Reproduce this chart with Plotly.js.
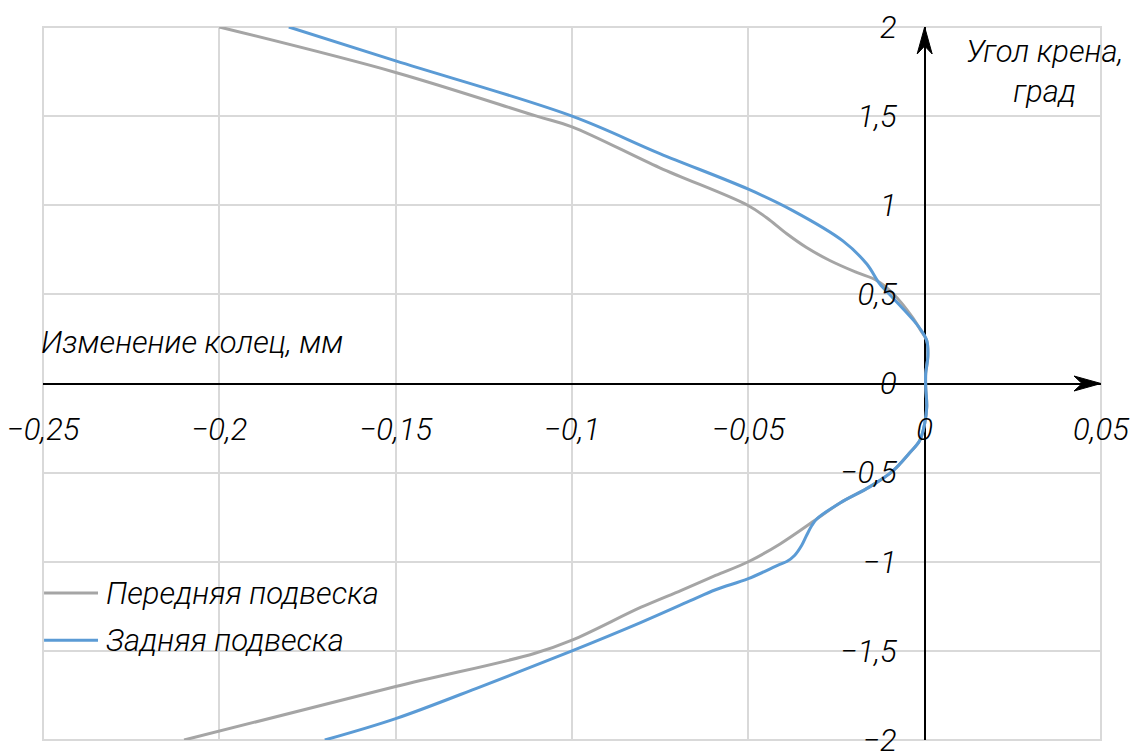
<!DOCTYPE html>
<html>
<head>
<meta charset="utf-8">
<script src="https://cdn.plot.ly/plotly-3.0.1.min.js"></script>
<style>
  html, body { margin: 0; padding: 0; background: #fff; }
  #chart { width: 1142px; height: 753px; }
</style>
</head>
<body>
<div id="chart"></div>
<script>
// ---- data (track change, mm vs roll angle, deg) ----
const frontX = [-0.2000, -0.1500, -0.1100, -0.1000, -0.0751, -0.0502, -0.0448, -0.0391, -0.0335, -0.0269, -0.0193, -0.0136,
                -0.0090, -0.0034, -0.0012, 0.0006, 0.0009, 0.0003, 0.0003, 0.0006, 0.0000, -0.0014, -0.0043, -0.0090,
                -0.0156, -0.0240, -0.0306, -0.0410, -0.0500, -0.0593, -0.0690, -0.0804, -0.1000, -0.1107, -0.1500, -0.2100];
const frontY = [2.00, 1.745, 1.50, 1.44, 1.21, 1.00, 0.93, 0.84, 0.763, 0.69, 0.623, 0.578,
                0.505, 0.37, 0.30, 0.24, 0.15, 0.056, -0.02, -0.13, -0.225, -0.32, -0.39, -0.49,
                -0.58, -0.67, -0.76, -0.90, -1.00, -1.077, -1.16, -1.255, -1.44, -1.515, -1.70, -2.00];

const rearX = [-0.1803, -0.1500, -0.1000, -0.0751, -0.0500, -0.0374, -0.0232, -0.0164, -0.0128, -0.0090, -0.0034,
               -0.0014, 0.0006, 0.0009, 0.0003, 0.0003, 0.0006, 0.0000, -0.0014, -0.0043, -0.0090, -0.0156, -0.0240,
               -0.0306, -0.0320, -0.0335, -0.0349, -0.0369, -0.0391, -0.0411, -0.0500, -0.0593, -0.0666, -0.0804,
               -0.1000, -0.1258, -0.1500, -0.1701];
const rearY = [2.00, 1.81, 1.50, 1.29, 1.09, 0.97, 0.80, 0.67, 0.56, 0.48, 0.36,
               0.31, 0.24, 0.15, 0.056, -0.02, -0.13, -0.225, -0.32, -0.39, -0.49, -0.58, -0.67,
               -0.76, -0.797, -0.853, -0.909, -0.965, -0.999, -1.015, -1.095, -1.157, -1.22, -1.34,
               -1.50, -1.70, -1.88, -2.00];

const seriesNames = ['Передняя подвеска', 'Задняя подвеска'];
const seriesColors = ['#a5a5a5', '#5b9bd5'];

const xTickVals = [-0.25, -0.2, -0.15, -0.1, -0.05, 0, 0.05];
const xTickText = ['−0,25', '−0,2', '−0,15', '−0,1', '−0,05', '0', '0,05'];
const yTickVals = [-2, -1.5, -1, -0.5, 0, 0.5, 1, 1.5, 2];
const yTickText = ['−2', '−1,5', '−1', '−0,5', '0', '0,5', '1', '1,5', '2'];

const xTitle = 'Изменение колец, мм';
const yTitle = 'Угол крена,<br>град';

const X_RANGE = [-0.25, 0.05];
const Y_RANGE = [-2, 2];

// ---- styling ----
const FONT = 'Roboto, DejaVu Sans Condensed, sans-serif';
const FS = 31;
const txtFont = { family: FONT, size: FS, color: '#000', style: 'italic', weight: 300 };

const traces = [
  { x: frontX, y: frontY, name: seriesNames[0], type: 'scatter', mode: 'lines', showlegend: false,
    line: { color: seriesColors[0], width: 3, shape: 'spline', smoothing: 1 } },
  { x: rearX, y: rearY, name: seriesNames[1], type: 'scatter', mode: 'lines', showlegend: false,
    line: { color: seriesColors[1], width: 3, shape: 'spline', smoothing: 1 } }
];

// legend placement (paper fractions)
const LEG_X0 = 0.001, LEG_X1 = 0.052, LEG_TX = 0.058;
const LEG_Y = [0.206, 0.140];

const legendShapes = seriesNames.map((n, i) => ({
  type: 'line', xref: 'paper', yref: 'paper', x0: LEG_X0, x1: LEG_X1, y0: LEG_Y[i], y1: LEG_Y[i],
  line: { color: seriesColors[i], width: 3 }
}));
const legendTexts = seriesNames.map((n, i) => ({
  text: n, xref: 'paper', yref: 'paper', x: LEG_TX, y: LEG_Y[i], xanchor: 'left', yanchor: 'middle',
  showarrow: false, font: txtFont
}));

const layout = {
  width: 1142, height: 753,
  margin: { l: 43, r: 41, t: 27, b: 13 },
  paper_bgcolor: '#fff', plot_bgcolor: '#fff',
  font: txtFont,
  showlegend: false,
  xaxis: {
    range: X_RANGE, tickvals: xTickVals, ticktext: xTickText,
    anchor: 'free', position: (0 - Y_RANGE[0]) / (Y_RANGE[1] - Y_RANGE[0]),
    showgrid: true, gridcolor: '#d9d9d9', gridwidth: 2,
    zeroline: true, zerolinecolor: '#000', zerolinewidth: 2,
    showline: false, ticks: '', ticklabelstandoff: 24, ticklabeloverflow: 'allow',
    tickfont: txtFont, fixedrange: true
  },
  yaxis: {
    range: Y_RANGE, tickvals: yTickVals, ticktext: yTickText,
    anchor: 'free', position: (0 - X_RANGE[0]) / (X_RANGE[1] - X_RANGE[0]),
    side: 'left',
    showgrid: true, gridcolor: '#d9d9d9', gridwidth: 2,
    zeroline: true, zerolinecolor: '#000', zerolinewidth: 2,
    showline: false, ticks: '', ticklabelstandoff: 28, ticklabeloverflow: 'allow',
    tickfont: txtFont, fixedrange: true
  },
  shapes: [
    { type: 'rect', xref: 'paper', yref: 'paper', x0: 0, x1: 1, y0: 0, y1: 1,
      line: { color: '#d9d9d9', width: 2 }, layer: 'below' },
    // arrow heads at the axis ends
    { type: 'path', xref: 'x', yref: 'y', xsizemode: 'pixel', ysizemode: 'pixel',
      xanchor: X_RANGE[1], yanchor: 0,
      path: 'M0,0 L-27,7.5 L-19,0 L-27,-7.5 Z', fillcolor: '#000', line: { color: '#000', width: 1 } },
    { type: 'path', xref: 'x', yref: 'y', xsizemode: 'pixel', ysizemode: 'pixel',
      xanchor: 0, yanchor: Y_RANGE[1],
      path: 'M0,0 L-7.5,-27 L0,-19 L7.5,-27 Z', fillcolor: '#000', line: { color: '#000', width: 1 } }
  ].concat(legendShapes),
  annotations: [
    { text: xTitle, xref: 'paper', yref: 'paper', x: 0, y: 0.557, xanchor: 'left', yanchor: 'middle',
      xshift: -4, showarrow: false, font: txtFont },
    { text: yTitle, xref: 'paper', yref: 'paper', x: 0.947, y: 0.937, xanchor: 'center', yanchor: 'middle',
      showarrow: false, font: txtFont, align: 'center' }
  ].concat(legendTexts)
};

Plotly.newPlot('chart', traces, layout, { displayModeBar: false, staticPlot: true });
</script>
</body>
</html>
